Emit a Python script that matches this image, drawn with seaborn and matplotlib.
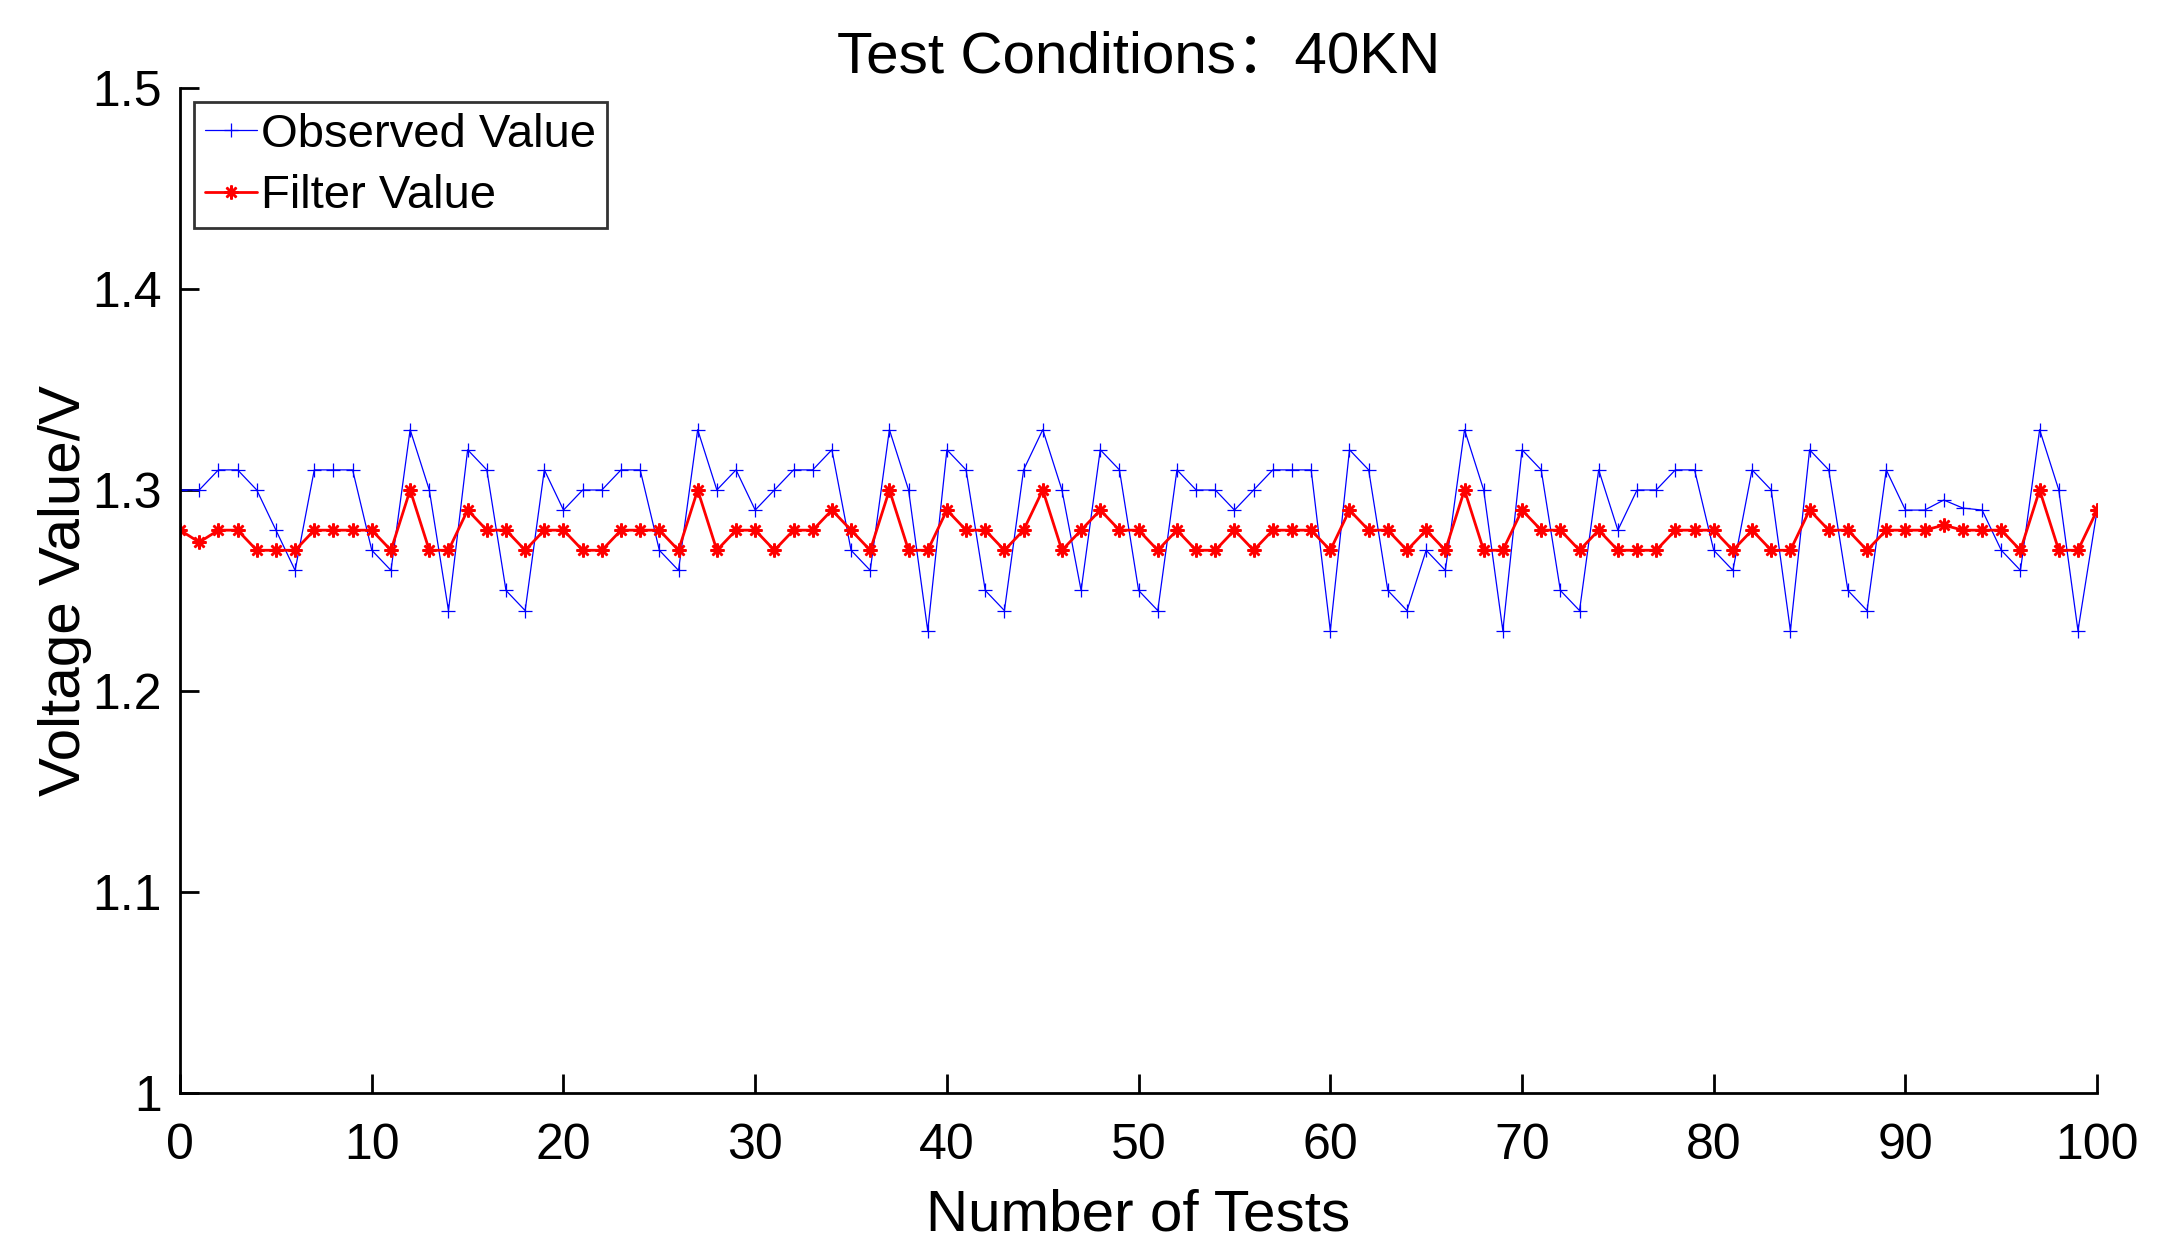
import matplotlib
matplotlib.use('Agg')
import matplotlib.pyplot as plt
import numpy as np
import seaborn as sns

# Data
tests = list(range(0, 101))
observed = [1.30, 1.30, 1.31, 1.31, 1.30, 1.28, 1.26, 1.31, 1.31, 1.31, 1.27,
            1.26, 1.33, 1.30, 1.24, 1.32, 1.31, 1.25, 1.24, 1.31, 1.29,
            1.30, 1.30, 1.31, 1.31, 1.27, 1.26, 1.33, 1.30, 1.31, 1.29,
            1.30, 1.31, 1.31, 1.32, 1.27, 1.26, 1.33, 1.30, 1.23, 1.32,
            1.31, 1.25, 1.24, 1.31, 1.33, 1.30, 1.25, 1.32, 1.31, 1.25,
            1.24, 1.31, 1.30, 1.30, 1.29, 1.30, 1.31, 1.31, 1.31, 1.23,
            1.32, 1.31, 1.25, 1.24, 1.27, 1.26, 1.33, 1.30, 1.23, 1.32,
            1.31, 1.25, 1.24, 1.31, 1.28, 1.30, 1.30, 1.31, 1.31, 1.27,
            1.26, 1.31, 1.30, 1.23, 1.32, 1.31, 1.25, 1.24, 1.31, 1.29,
            1.29, 1.295, 1.291, 1.29, 1.27, 1.26, 1.33, 1.30, 1.23, 1.29]
filtered = [1.28, 1.274, 1.28, 1.28, 1.27, 1.27, 1.27, 1.28, 1.28, 1.28, 1.28,
            1.27, 1.30, 1.27, 1.27, 1.29, 1.28, 1.28, 1.27, 1.28, 1.28,
            1.27, 1.27, 1.28, 1.28, 1.28, 1.27, 1.30, 1.27, 1.28, 1.28,
            1.27, 1.28, 1.28, 1.29, 1.28, 1.27, 1.30, 1.27, 1.27, 1.29,
            1.28, 1.28, 1.27, 1.28, 1.30, 1.27, 1.28, 1.29, 1.28, 1.28,
            1.27, 1.28, 1.27, 1.27, 1.28, 1.27, 1.28, 1.28, 1.28, 1.27,
            1.29, 1.28, 1.28, 1.27, 1.28, 1.27, 1.30, 1.27, 1.27, 1.29,
            1.28, 1.28, 1.27, 1.28, 1.27, 1.27, 1.27, 1.28, 1.28, 1.28,
            1.27, 1.28, 1.27, 1.27, 1.29, 1.28, 1.28, 1.27, 1.28, 1.28,
            1.28, 1.2825, 1.28, 1.28, 1.28, 1.27, 1.30, 1.27, 1.27, 1.29]

x_ticks = [0, 10, 20, 30, 40, 50, 60, 70, 80, 90, 100]
x_tick_labels = ['0', '10', '20', '30', '40', '50', '60', '70', '80', '90', '100']
y_ticks = [1.0, 1.1, 1.2, 1.3, 1.4, 1.5]
y_tick_labels = ['1', '1.1', '1.2', '1.3', '1.4', '1.5']

sns.set_theme(style='white')
plt.rcParams['font.family'] = ['Liberation Sans', 'Noto Sans CJK SC', 'DejaVu Sans']
plt.rcParams['text.color'] = 'black'
plt.rcParams['axes.labelcolor'] = 'black'
plt.rcParams['xtick.color'] = 'black'
plt.rcParams['ytick.color'] = 'black'

fig = plt.figure(figsize=(21.75, 12.59), dpi=100)
ax = fig.add_axes([0.0828, 0.1319, 0.8814, 0.7982])

sns.lineplot(x=tests, y=observed, ax=ax, color='blue', linewidth=0.9,
             marker='+', markersize=10, markeredgecolor='blue',
             markeredgewidth=0.9, label='Observed Value')
sns.lineplot(x=tests, y=filtered, ax=ax, color='red', linewidth=2.0,
             marker=(8, 2, 0), markersize=10, markeredgecolor='red',
             markeredgewidth=1.8, label='Filter Value')

ax.set_xlim(0, 100)
ax.set_ylim(1.0, 1.5)
ax.set_xticks(x_ticks)
ax.set_xticklabels(x_tick_labels)
ax.set_yticks(y_ticks)
ax.set_yticklabels(y_tick_labels)

for side in ['top', 'right']:
    ax.spines[side].set_visible(False)
for side in ['left', 'bottom']:
    ax.spines[side].set_color('black')
    ax.spines[side].set_linewidth(2.0)

ax.tick_params(axis='both', which='major', direction='in', length=14, width=2.0,
               colors='black', labelsize=36, bottom=True, left=True,
               top=False, right=False)
ax.tick_params(axis='x', pad=22)
ax.tick_params(axis='y', pad=13)
ax.grid(False)

ax.set_title('Test Conditions：40KN', fontsize=42, pad=11)
ax.set_xlabel('Number of Tests', fontsize=42)
ax.set_ylabel('Voltage Value/V', fontsize=42)
ax.xaxis.set_label_coords(0.5, -0.095)
ax.yaxis.set_label_coords(-0.046, 0.5)

leg = ax.legend(loc='upper left', fontsize=34, frameon=True, fancybox=False,
                handlelength=1.1, handletextpad=0.1, borderpad=0.22,
                labelspacing=0.37, borderaxespad=0.3)
leg.get_frame().set_edgecolor('black')
leg.get_frame().set_linewidth(2.0)

fig.savefig('out.png', dpi=100, facecolor='white')
